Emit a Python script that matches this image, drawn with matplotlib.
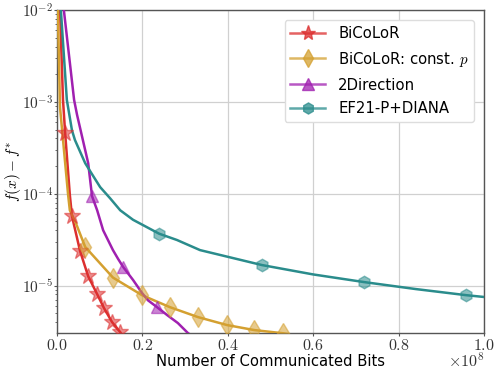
import numpy as np
import matplotlib
matplotlib.use("Agg")
import matplotlib.pyplot as plt
from matplotlib.ticker import FuncFormatter, FixedLocator

plt.rcParams['mathtext.fontset'] = 'cm'
plt.rcParams['font.family'] = ['DejaVu Sans']

# x values in units of 1e8 bits
bicolor_x = [0.003, 0.007, 0.014, 0.019, 0.030, 0.035, 0.054, 0.073, 0.094, 0.110, 0.129, 0.148, 0.160]
bicolor_y = [2.0e-2, 1.0e-2, 1.05e-3, 4.6e-4, 9.7e-5, 5.7e-5, 2.37e-5, 1.26e-5, 8.05e-6, 5.68e-6, 3.99e-6, 3.10e-6, 2.6e-6]
bicolor_marks = [3, 5, 6, 7, 8, 9, 10, 11]

constp_x = [0.000, 0.002, 0.007, 0.026, 0.030, 0.044, 0.066, 0.077, 0.131, 0.199, 0.264, 0.330, 0.398, 0.462, 0.529, 0.600]
constp_y = [3.0e-2, 1.0e-2, 8.7e-4, 9.7e-5, 6.6e-5, 4.8e-5, 2.63e-5, 2.31e-5, 1.22e-5, 7.85e-6, 5.82e-6, 4.53e-6, 3.71e-6, 3.27e-6, 3.02e-6, 2.7e-6]
constp_marks = [0, 6, 8, 9, 10, 11, 12, 13, 14]

twodir_x = [0.006, 0.016, 0.040, 0.047, 0.073, 0.082, 0.094, 0.108, 0.131, 0.143, 0.155, 0.178, 0.199, 0.213, 0.234, 0.258, 0.283, 0.307, 0.330]
twodir_y = [3.0e-2, 1.0e-2, 1.05e-3, 7.2e-4, 2.15e-4, 9.4e-5, 6.6e-5, 4.0e-5, 2.43e-5, 1.95e-5, 1.59e-5, 1.15e-5, 8.3e-6, 6.9e-6, 5.82e-6, 4.76e-6, 3.9e-6, 3.02e-6, 2.6e-6]
twodir_marks = [0, 5, 10, 14]

ef21_x = [0.000, 0.009, 0.023, 0.035, 0.042, 0.066, 0.085, 0.101, 0.124, 0.148, 0.178, 0.239, 0.281, 0.335, 0.480, 0.600, 0.719, 0.840, 0.958, 1.000, 1.050]
ef21_y = [3.0e-2, 1.0e-2, 1.05e-3, 4.9e-4, 3.84e-4, 2.15e-4, 1.55e-4, 1.18e-4, 8.95e-5, 6.6e-5, 5.2e-5, 3.67e-5, 3.13e-5, 2.43e-5, 1.67e-5, 1.32e-5, 1.09e-5, 9.15e-6, 7.85e-6, 7.5e-6, 7.1e-6]
ef21_marks = [0, 11, 14, 16, 18]

series = [
    ("BiCoLoR", bicolor_x, bicolor_y, bicolor_marks, "#dc2f2f", "*", 12),
    (r"BiCoLoR: const. $p$", constp_x, constp_y, constp_marks, "#d4a030", "d", 10),
    ("2Direction", twodir_x, twodir_y, twodir_marks, "#a020b0", "^", 9),
    ("EF21-P+DIANA", ef21_x, ef21_y, ef21_marks, "#2a8c8c", "h", 9),
]

fig = plt.figure(figsize=(4.98, 3.74), dpi=100)
ax = fig.add_axes([0.1145, 0.110, 0.8575, 0.863])

for label, xs, ys, marks, color, marker, ms in series:
    xs = np.array(xs) * 1e8
    ax.plot(xs, ys, color=color, lw=1.8, zorder=3)
    ax.plot(xs[marks], np.array(ys)[marks], ls='none', marker=marker, ms=ms,
            color=color, alpha=0.55, mec=color, zorder=4)

ax.set_yscale('log')
ax.set_xlim(0, 1e8)
ax.set_ylim(3.05e-6, 1e-2)

ax.xaxis.set_major_locator(FixedLocator([0, 0.2e8, 0.4e8, 0.6e8, 0.8e8, 1.0e8]))
ax.xaxis.set_major_formatter(FuncFormatter(lambda v, p: r'$%.1f$' % (v / 1e8)))
ax.yaxis.set_major_formatter(FuncFormatter(lambda v, p: r'$10^{%d}$' % round(np.log10(v))))
ax.tick_params(labelsize=11.5, colors='#333333', pad=1.5)
ax.tick_params(axis='y', labelsize=11, pad=0.8)
ax.tick_params(axis='both', which='both', color='#555555')
ax.tick_params(axis='both', which='major', length=2.2)
ax.tick_params(axis='y', which='minor', length=1.8)

ax.grid(True, which='major', color='#d0d0d0', lw=0.9)
for s in ax.spines.values():
    s.set_color('#555555')
    s.set_linewidth(1.0)

ax.set_xlabel("Number of Communicated Bits", fontsize=10.6)
ax.xaxis.set_label_coords(0.5, -0.066)
ax.set_ylabel(r"$f(x) - f^{*}$", fontsize=11)
ax.yaxis.set_label_coords(-0.08, 0.5)
ax.text(1.0, -0.058, r'$\times10^{8}$', transform=ax.transAxes, ha='right', va='top', fontsize=11.5, color='#333333')

handles = []
for label, xs, ys, marks, color, marker, ms in series:
    h, = ax.plot([], [], color=color, lw=1.8, marker=marker, ms=ms - 1, mfc=color, mec=color, alpha=0.75, label=label)
    handles.append(h)
leg = ax.legend(handles=handles, loc='upper right', fontsize=10.7, framealpha=1,
                edgecolor='#dddddd', handlelength=2.3, handletextpad=0.9,
                borderaxespad=0.65, labelspacing=0.6)

fig.savefig("out.png", dpi=100)
